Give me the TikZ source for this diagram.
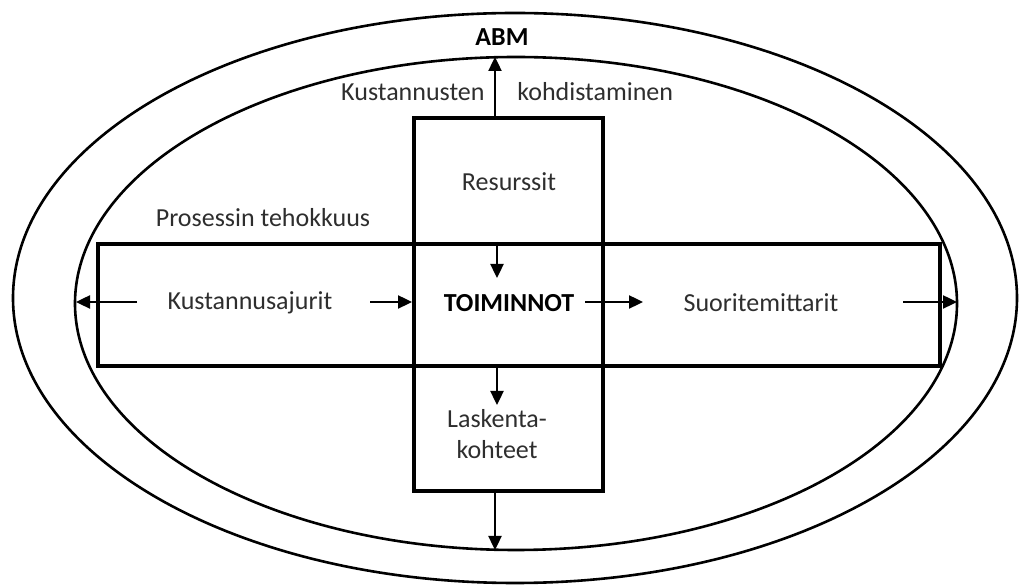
\documentclass[tikz,border=0pt]{standalone}
\usepackage{fontspec}
\setmainfont{Carlito}
\usetikzlibrary{arrows.meta}

\begin{document}
\begin{tikzpicture}[x=0.5pt,y=-0.5pt,
    box/.style={draw,line width=2pt,inner sep=0pt},
    ring/.style={line width=1.3pt},
    flow/.style={line width=1.2pt,-{Triangle[length=7pt,width=6.5pt]}},
    lbl/.style={font=\fontsize{13}{15.5}\selectfont,text=black!82,inner sep=1pt},
    hdr/.style={lbl,font=\fontsize{13}{15.5}\selectfont\bfseries,text=black}]
  \useasboundingbox (0,0) rectangle (1019,587);
  % ellipses
  \draw[ring] (515,298) ellipse [x radius=502, y radius=285];
  \draw[ring] (516,303.5) ellipse [x radius=441, y radius=246.5];
  % boxes
  \node[box,minimum width=94.5pt,minimum height=186.5pt] (vert) at (508.5,304.5) {};
  \node[box,minimum width=421pt,minimum height=61pt] (horz) at (519,305) {};
  % texts
  \node[hdr] (abm) at (502,37) {ABM};
  \node[lbl,anchor=east] (kust) at (487,92) {Kustannusten};
  \node[lbl,anchor=west] (kohd) at (515,92) {kohdistaminen};
  \node[lbl] (res) at (509,182) {Resurssit};
  \node[lbl] (proc) at (263,218) {Prosessin tehokkuus};
  \node[lbl] (ajurit) at (250,303) {Kustannusajurit};
  \node[hdr] (toim) at (509,303) {TOIMINNOT};
  \node[lbl] (suor) at (761,303) {Suoritemittarit};
  \node[lbl,align=center] (lask) at (497,434) {Laskenta-\\kohteet};
  % arrow ends
  \coordinate (upE) at (495,57);
  \coordinate (downE) at (495,550);
  \coordinate (leftE) at (76,302);
  \coordinate (rightE) at (957,302);
  \coordinate (leftS) at (137,302);
  \coordinate (rightS) at (903,302);
  \coordinate (inS) at (370,302);
  \coordinate (outS) at (585,302);
  % arrows
  \draw[flow] (vert.north -| upE) -- (upE);
  \draw[flow] (vert.south -| downE) -- (downE);
  \draw[flow] (leftS) -- (leftE);
  \draw[flow] (rightS) -- (rightE);
  \draw[flow] (inS) -- (inS -| vert.west);
  \draw[flow] (outS) -- (643,302);
  \draw[flow] (horz.north -| 497,0) -- (497,278);
  \draw[flow] (horz.south -| 497,0) -- (497,405);
\end{tikzpicture}
\end{document}
